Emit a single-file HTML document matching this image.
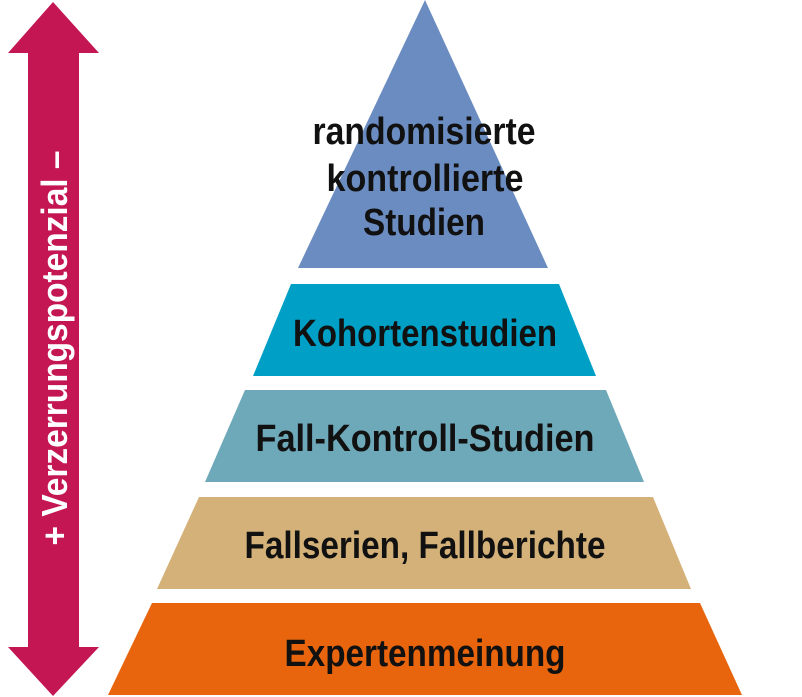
<!DOCTYPE html>
<html><head><meta charset="utf-8"><style>
html,body{margin:0;padding:0;background:#fff;width:802px;height:697px;overflow:hidden}
svg text{font-family:"Liberation Sans Narrow","Liberation Sans",sans-serif;font-weight:bold}
</style></head><body>
<svg width="802" height="697" viewBox="0 0 802 697" xmlns="http://www.w3.org/2000/svg">
<polygon points="53,2 99,53 79,53 79,647 99,647 53,696 8,647 28,647 28,53 8,53" fill="#c41652"/>
<text transform="translate(67,348) rotate(-90)" text-anchor="middle" font-size="36" fill="#fff" textLength="395" lengthAdjust="spacingAndGlyphs">+ Verzerrungspotenzial –</text>
<polygon points="425,0 548,268 298,268" fill="#6b8cc0"/>
<polygon points="291,284 559,284 596,376 253,376" fill="#00a0c6"/>
<polygon points="245,390 606,390 644,482 205,482" fill="#6ea9b9"/>
<polygon points="199,497 653,497 691,589 157,589" fill="#d4b178"/>
<polygon points="152,603 700,603 742,695 108,695" fill="#e8650d"/>
<g font-size="38" fill="#111" text-anchor="middle">
<text x="424" y="144" textLength="223" lengthAdjust="spacingAndGlyphs">randomisierte</text>
<text x="425" y="191" textLength="197" lengthAdjust="spacingAndGlyphs">kontrollierte</text>
<text x="424" y="235" textLength="122" lengthAdjust="spacingAndGlyphs">Studien</text>
<text x="425" y="346" textLength="264" lengthAdjust="spacingAndGlyphs">Kohortenstudien</text>
<text x="425" y="451" textLength="339" lengthAdjust="spacingAndGlyphs">Fall-Kontroll-Studien</text>
<text x="425" y="558" textLength="361" lengthAdjust="spacingAndGlyphs">Fallserien, Fallberichte</text>
<text x="425" y="666" textLength="281" lengthAdjust="spacingAndGlyphs">Expertenmeinung</text>
</g>
</svg>
</body></html>
